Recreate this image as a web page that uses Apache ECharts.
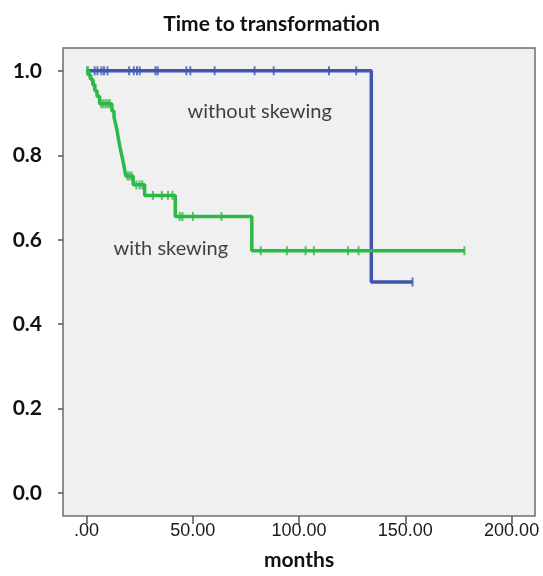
<!DOCTYPE html>
<html>
<head>
<meta charset="utf-8">
<script src="https://cdn.jsdelivr.net/npm/echarts@6/dist/echarts.min.js"></script>
<style>html,body{margin:0;padding:0;background:#fff}#c{width:543px;height:576px}</style>
</head>
<body>
<div id="c"></div>
<script>
// Kaplan-Meier steps
var blueTimes = [0, 134];
var blueSurv = [1.0, 0.5];
var blueEnd = 153.4;
var blueCensor = [3.9, 5.2, 7.1, 8.3, 9.9, 20.1, 22.3, 23.8, 25.1, 32.5, 33.5, 47.0, 48.9, 60.3, 79.1, 88.1, 114.1, 126.9, 153.4];

var greenTimes = [0, 1, 2, 3, 4, 5, 6.2, 12, 13, 13.8, 14.5, 15.1, 15.8, 16.5, 17.3, 17.9, 18.5, 22, 27.4, 41.8, 77.8];
var greenSurv = [1.0, 0.99, 0.98, 0.967, 0.953, 0.94, 0.922, 0.905, 0.89, 0.873, 0.856, 0.838, 0.82, 0.803, 0.785, 0.768, 0.751, 0.73, 0.705, 0.655, 0.574];
var greenEnd = 177.8;
var greenCensor = [0.3, 0.8, 1.5, 3.5, 7, 8, 9, 10, 11, 19.3, 20.2, 21.2, 23.5, 25, 26.3, 31.3, 35.5, 38.4, 40.5, 43.9, 45.2, 50.1, 63.5, 82, 94.3, 103.1, 107, 123, 128, 177.8];

var xTicks = [0, 50, 100, 150, 200];
var yTicks = [0, 0.2, 0.4, 0.6, 0.8, 1.0];

var annotations = [
  {name: 'without skewing', x: 81.5, y: 0.904},
  {name: 'with skewing', x: 39.7, y: 0.579}
];

function stepLine(times, surv, end) {
  var d = times.map(function (t, i) { return [t, surv[i]]; });
  d.push([end, surv[surv.length - 1]]);
  return d;
}
function survAt(times, surv, t) {
  var s = surv[0];
  for (var i = 0; i < times.length; i++) { if (times[i] <= t) s = surv[i]; }
  return s;
}
function censorPts(times, surv, cens) {
  return cens.map(function (t) { return [t, survAt(times, surv, t)]; });
}

var BLUE = '#4155af', GREEN = '#2db946';
var calibri = 'Lato, "Open Sans", sans-serif';

var chart = echarts.init(document.getElementById('c'));
chart.setOption({
  animation: false,
  backgroundColor: '#ffffff',
  title: {
    text: 'Time to transformation', left: 'center', top: 9,
    textStyle: {fontFamily: calibri, fontWeight: 'bold', fontSize: 21, color: '#111'}
  },
  grid: {
    left: 63, right: 8, top: 48, bottom: 55, containLabel: false,
    show: true, backgroundColor: '#f0f0f0', borderColor: '#6e6e6e', borderWidth: 1.5
  },
  xAxis: {
    type: 'value', min: -11, max: 211,
    name: 'months', nameLocation: 'middle', nameGap: 34,
    nameTextStyle: {fontFamily: calibri, fontWeight: 'bold', fontSize: 21, color: '#111'},
    axisLine: {show: false, onZero: false},
    splitLine: {show: false},
    axisTick: {show: true, inside: false, length: 8, lineStyle: {color: '#555', width: 1.5}, customValues: xTicks},
    axisLabel: {
      customValues: xTicks, margin: 6,
      fontFamily: '"Liberation Sans", Arial, sans-serif', fontSize: 18, color: '#1a1a1a',
      formatter: function (v) { return v === 0 ? '.00' : v.toFixed(2); }
    }
  },
  yAxis: {
    type: 'value', min: -0.054, max: 1.054,
    axisLine: {show: false, onZero: false},
    splitLine: {show: false},
    axisTick: {show: true, inside: false, length: 5, lineStyle: {color: '#555', width: 1.5}, customValues: yTicks},
    axisLabel: {
      customValues: yTicks, margin: 21,
      fontFamily: calibri, fontWeight: 'bold', fontSize: 21, color: '#111',
      formatter: function (v) { return v.toFixed(1); }
    }
  },
  series: [
    {
      type: 'line', step: 'end', data: stepLine(blueTimes, blueSurv, blueEnd),
      symbol: 'none', lineStyle: {color: BLUE, width: 3.5}, z: 2
    },
    {
      type: 'scatter', data: censorPts(blueTimes, blueSurv, blueCensor),
      symbol: 'rect', symbolSize: [2, 9], itemStyle: {color: BLUE}, z: 3
    },
    {
      type: 'line', step: 'end', data: stepLine(greenTimes, greenSurv, greenEnd),
      symbol: 'none', lineStyle: {color: GREEN, width: 3.5}, z: 4
    },
    {
      type: 'scatter', data: censorPts(greenTimes, greenSurv, greenCensor),
      symbol: 'rect', symbolSize: [2, 9], itemStyle: {color: GREEN}, z: 5
    },
    {
      type: 'scatter', symbolSize: 0, silent: true,
      data: annotations.map(function (a) { return {name: a.name, value: [a.x, a.y]}; }),
      label: {
        show: true, position: 'inside', formatter: '{b}',
        fontFamily: calibri, fontSize: 20, color: '#111'
      }, z: 6
    }
  ]
});
</script>
</body>
</html>
